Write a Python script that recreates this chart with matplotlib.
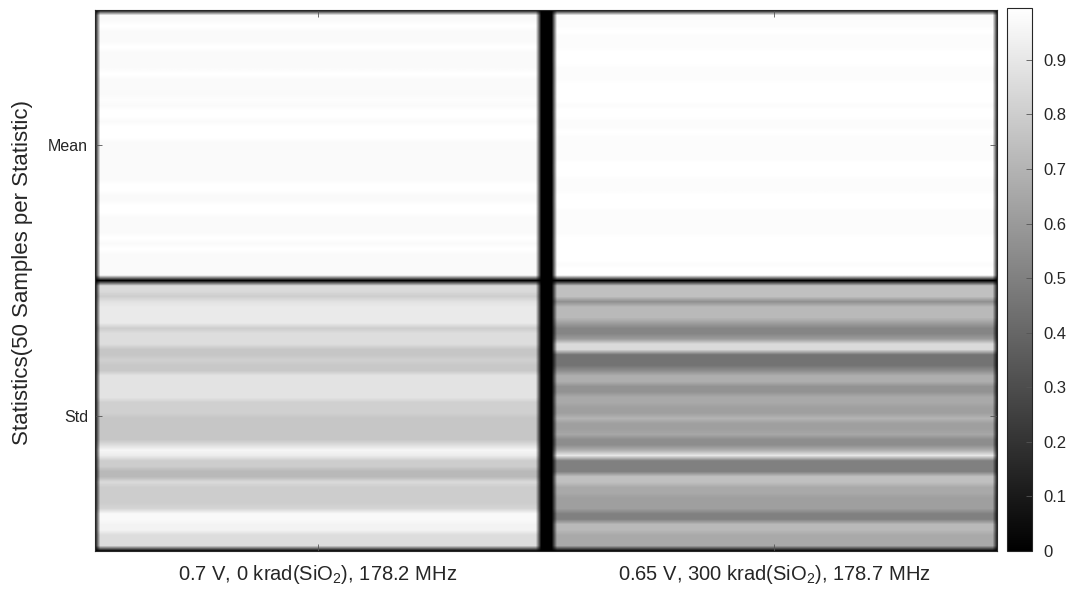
import numpy as np
import matplotlib.pyplot as plt

plt.rcParams['font.family'] = ['Liberation Sans', 'DejaVu Sans']
plt.rcParams['mathtext.fontset'] = 'custom'
plt.rcParams['mathtext.rm'] = 'Liberation Sans'
plt.rcParams['mathtext.it'] = 'Liberation Sans:italic'

conditions = ['0.7 V, 0 krad(SiO$_2$), 178.2 MHz',
              '0.65 V, 300 krad(SiO$_2$), 178.7 MHz']
stats = ['Mean', 'Std']

# 50 samples per statistic, normalised
mean_a = [0.975, 0.975, 0.995, 0.975, 0.975, 0.975, 0.995, 0.975, 0.975, 0.975,
          0.975, 0.995, 0.975, 0.975, 0.975, 0.975, 0.985, 0.975, 0.995, 0.995,
          0.975, 0.995, 0.995, 0.995, 0.975, 0.975, 0.975, 0.975, 0.975, 0.975,
          0.975, 0.975, 0.995, 0.995, 0.975, 0.975, 0.995, 0.995, 0.975, 0.975,
          0.975, 0.975, 0.995, 0.975, 0.995, 0.975, 0.975, 0.975, 0.975, 0.975]
std_a = [0.85, 0.85, 0.80, 0.88, 0.91, 0.91, 0.91, 0.91, 0.80, 0.86,
         0.86, 0.86, 0.77, 0.77, 0.81, 0.78, 0.78, 0.89, 0.89, 0.89,
         0.89, 0.89, 0.81, 0.81, 0.81, 0.77, 0.77, 0.77, 0.77, 0.77,
         0.86, 0.96, 0.92, 0.80, 0.80, 0.72, 0.72, 0.85, 0.80, 0.80,
         0.80, 0.80, 0.83, 0.97, 0.97, 0.95, 0.95, 0.86, 0.86, 0.86]
mean_b = [0.98, 0.98, 0.98, 0.995, 0.98, 0.98, 0.98, 0.995, 0.995, 0.995,
          0.98, 0.98, 0.98, 0.995, 0.995, 0.995, 0.995, 0.98, 0.995, 0.995,
          0.98, 0.98, 0.995, 0.98, 0.98, 0.98, 0.98, 0.98, 0.995, 0.995,
          0.995, 0.98, 0.98, 0.98, 0.995, 0.995, 0.995, 0.98, 0.98, 0.98,
          0.98, 0.98, 0.995, 0.995, 0.995, 0.995, 0.995, 0.98, 0.995, 0.995]
std_b = [0.75, 0.75, 0.75, 0.56, 0.72, 0.72, 0.72, 0.62, 0.52, 0.52,
         0.60, 0.85, 0.85, 0.45, 0.45, 0.45, 0.55, 0.68, 0.68, 0.57,
         0.57, 0.66, 0.66, 0.62, 0.62, 0.70, 0.62, 0.62, 0.65, 0.55,
         0.55, 0.68, 0.90, 0.50, 0.50, 0.50, 0.75, 0.75, 0.66, 0.66,
         0.62, 0.62, 0.62, 0.50, 0.50, 0.72, 0.72, 0.66, 0.66, 0.66]

col_w = 83   # image columns per condition
gap = 3      # zero columns between conditions
n = len(mean_a)


def block(mean, std):
    col = np.concatenate([mean, [0.0], std])
    return np.repeat(col[:, None], col_w, axis=1)


ncols = 2 * col_w + gap + 2
img = np.zeros((2 * n + 3, ncols))
img[1:2 * n + 2, 1:1 + col_w] = block(mean_a, std_a)
img[1:2 * n + 2, 1 + col_w + gap:1 + 2 * col_w + gap] = block(mean_b, std_b)

fig = plt.figure(figsize=(10.69, 5.90), dpi=100)
ax = fig.add_axes([95 / 1069, 1 - 551 / 590, 902 / 1069, 541 / 590])
im = ax.imshow(img, cmap='gray', aspect='auto', interpolation='bilinear',
               vmin=0, vmax=img.max())
ax.set_xlim(0, ncols - 1)
ax.set_ylim(2 * n + 2, 0)

ax.set_xticks([(1 + col_w) / 2, col_w + gap + 1 + (col_w - 1) / 2], conditions)
ax.set_yticks([(1 + n) / 2, n + 1 + (1 + n) / 2], stats)
ax.tick_params(direction='in', top=True, right=True, length=5, width=0.6,
               color='#555555', labelcolor='#262626')
ax.tick_params(axis='x', pad=9, labelsize=14.5)
ax.tick_params(axis='y', pad=5, labelsize=11.5)
for s in ax.spines.values():
    s.set_color('#262626')
    s.set_linewidth(0.8)
ax.set_ylabel('Statistics(50 Samples per Statistic)', fontsize=16,
              color='#262626')
ax.yaxis.set_label_coords(-0.069, 0.514)

cax = fig.add_axes([1007 / 1069, 1 - 551 / 590, 25 / 1069, 543 / 590])
cb = fig.colorbar(im, cax=cax)
tick_vals = [0, 0.1, 0.2, 0.3, 0.4, 0.5, 0.6, 0.7, 0.8, 0.9]
cb.set_ticks(tick_vals, labels=[f'{v:g}' for v in tick_vals])
cax.tick_params(direction='in', length=4, width=0.6, color='#555555',
                labelcolor='#262626', labelsize=12, pad=8)
cb.outline.set_edgecolor('#262626')
cb.outline.set_linewidth(0.8)

fig.savefig('out.png', dpi=100)
